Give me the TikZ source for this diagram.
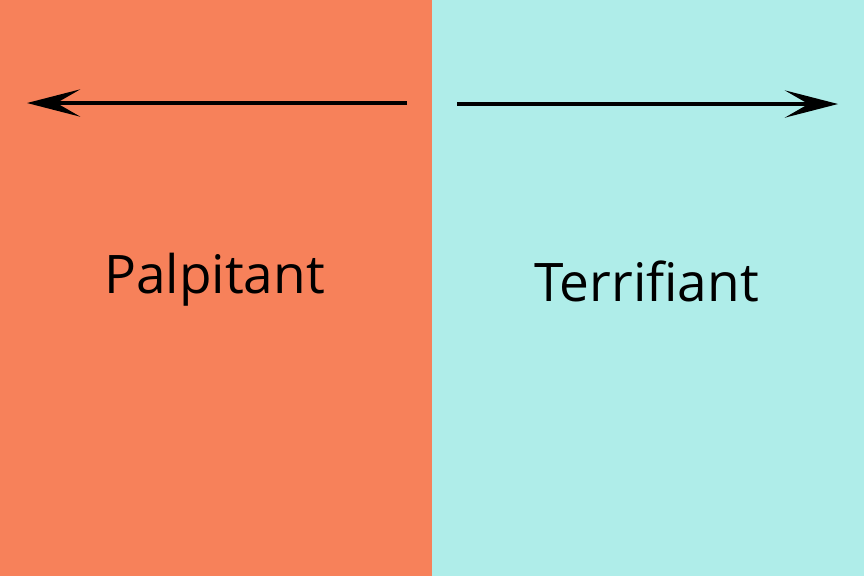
\documentclass[tikz,border=0pt]{standalone}
\usepackage{fontspec}
\setmainfont{Open Sans}
\usetikzlibrary{arrows.meta}
\definecolor{hotfill}{RGB}{247,129,90}
\definecolor{coldfill}{RGB}{175,237,233}

\begin{document}
\begin{tikzpicture}[
  x=0.01389cm, y=-0.01389cm,
  arr/.style={-{Stealth[length=0.74cm, width=0.38cm, inset=0.33cm]}, line width=1.2pt, black},
  word/.style={anchor=base, font=\fontsize{21}{25}\selectfont, inner sep=0pt}
]
\useasboundingbox (0,0) rectangle (864,576);

% two halves
\fill[hotfill] (0,0) rectangle (432,576);
\fill[coldfill] (432,0) rectangle (864,576);

% arrow ends
\coordinate (ls) at (407,103);
\coordinate (le) at (27,103);
\coordinate (rs) at (457,104);
\coordinate (re) at (838,104);
\draw[arr] (ls) -- (le);
\draw[arr] (rs) -- (re);

% labels
\node[word] (palp) at (214.5,293) {Palpitant};
\node[word] (terr) at (646.5,301) {Terrifiant};
\end{tikzpicture}
\end{document}
